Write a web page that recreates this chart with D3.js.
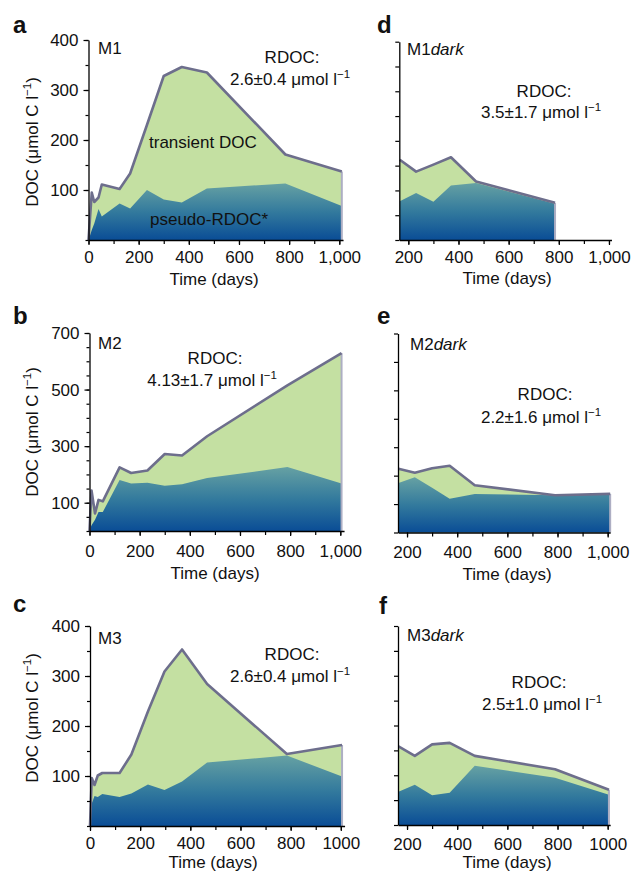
<!DOCTYPE html>
<html><head><meta charset="utf-8">
<script src="https://cdn.jsdelivr.net/npm/d3@7"></script>
<style>
body{margin:0;background:#fff}
svg{display:block}
text{font-family:"Liberation Sans",Arial,Helvetica,sans-serif;fill:#111}
</style>
</head><body>
<svg id="chart" width="632" height="873"></svg>
<script>
// ---------------- DATA ----------------
const m1Days   = [0, 13, 23, 40, 53, 124, 166, 233, 300, 372, 472, 785, 1010];
const m1Total  = [0, 95, 76, 85, 111, 102, 133, 230, 328, 346, 335, 171, 137];
const m1Pseudo = [0, 20, 33, 62, 47, 73, 63, 100, 81, 75, 103, 113, 68];

const m2Days   = [0, 8, 22, 36, 53, 120, 166, 231, 300, 369, 469, 789, 1005];
const m2Total  = [0, 143, 62, 110, 105, 225, 205, 214, 272, 267, 335, 515, 629];
const m2Pseudo = [0, 20, 40, 67, 67, 180, 168, 171, 160, 165, 187, 226, 168];

const m3Days   = [0, 7, 18, 31, 49, 118, 165, 231, 297, 367, 467, 785, 1005];
const m3Total  = [0, 96, 82, 101, 106, 106, 143, 229, 309, 353, 284, 144, 162];
const m3Pseudo = [0, 45, 60, 58, 64, 58, 65, 83, 72, 89, 127, 141, 99];

const m1dDays   = [166, 231, 300, 370, 470, 785];
const m1dTotal  = [162, 138, 152, 167, 118, 75];
const m1dPseudo = [78, 95, 77, 110, 115, 73];

const m2dDays   = [166, 231, 300, 370, 470, 790, 1010];
const m2dTotal  = [224, 210, 226, 235, 166, 131, 136];
const m2dPseudo = [174, 194, 157, 119, 135, 131, 136];

const m3dDays   = [166, 231, 300, 370, 470, 790, 1005];
const m3dTotal  = [158, 139, 162, 165, 139, 112, 71];
const m3dPseudo = [67, 81, 60, 65, 119, 95, 61];

const rdocValues = ["2.6±0.4", "4.13±1.7", "2.6±0.4", "3.5±1.7", "2.2±1.6", "2.5±1.0"];
const yLabels400 = [100, 200, 300, 400];
const yLabels700 = [100, 300, 500, 700];
const xLabelsFull = [0, 200, 400, 600, 800, 1000];
const xLabelsDark = [200, 400, 600, 800, 1000];

// ---------------- STYLE / LAYOUT ----------------
const GREEN = "#c4e0a2";
const LINE = "#6d6e8c";
const EDGE = "#adaec3";
const PXDAY = 0.2508;
const FS = 17;

const panels = [
  {key:"a", name:"M1", dark:false, days:m1Days, total:m1Total, pseudo:m1Pseudo, rdoc:rdocValues[0],
   left:88.5, top:40, bottom:240, yMax:400, yStep:50, yLab:yLabels400, xDom:[0,1015], xLab:xLabelsFull, fmt:",",
   letter:[13,33], mLab:[98,54], r1:[292,63], r2:[290,85], tickBase:263, titleBase:285, titleX:214, yTitleY:142},
  {key:"b", name:"M2", dark:false, days:m2Days, total:m2Total, pseudo:m2Pseudo, rdoc:rdocValues[1],
   left:89.5, top:333, bottom:531, yMax:700, yStep:50, yLab:yLabels700, xDom:[0,1015], xLab:xLabelsFull, fmt:",",
   letter:[13,324], mLab:[98,349], r1:[215,364], r2:[212,386], tickBase:557, titleBase:579, titleX:215, yTitleY:432},
  {key:"c", name:"M3", dark:false, days:m3Days, total:m3Total, pseudo:m3Pseudo, rdoc:rdocValues[2],
   left:90, top:626, bottom:826, yMax:400, yStep:50, yLab:yLabels400, xDom:[0,1015], xLab:xLabelsFull, fmt:"d",
   letter:[13,612], mLab:[98,644], r1:[292,660], r2:[290,682], tickBase:849, titleBase:868, titleX:213, yTitleY:718},
  {key:"d", name:"M1", dark:true, days:m1dDays, total:m1dTotal, pseudo:m1dPseudo, rdoc:rdocValues[3],
   left:399.3, top:41.7, bottom:240, yMax:400, yStep:50, yLab:[], xDom:[164,1010], xLab:xLabelsDark, fmt:",",
   letter:[377,33], mLab:[407,55], r1:[544,97], r2:[541,118], tickBase:263, titleBase:284, titleX:507},
  {key:"e", name:"M2", dark:true, days:m2dDays, total:m2dTotal, pseudo:m2dPseudo, rdoc:rdocValues[4],
   left:398, top:333.5, bottom:532.5, yMax:700, yStep:100, yLab:[], xDom:[164,1010], xLab:xLabelsDark, fmt:",",
   letter:[377,324], mLab:[410,350], r1:[545,400], r2:[541,423], tickBase:558, titleBase:580, titleX:507},
  {key:"f", name:"M3", dark:true, days:m3dDays, total:m3dTotal, pseudo:m3dPseudo, rdoc:rdocValues[5],
   left:398, top:626, bottom:825, yMax:400, yStep:50, yLab:[], xDom:[164,1010], xLab:xLabelsDark, fmt:"d",
   letter:[379,614], mLab:[407,641], r1:[539,688], r2:[542,710], tickBase:850, titleBase:868, titleX:507}
];

const svg = d3.select("#chart");
const defs = svg.append("defs");

function supText(sel, before, sup, after) {
  sel.append("tspan").text(before);
  sel.append("tspan").attr("font-size", 11.5).attr("dy", -7).text(sup);
  if (after) sel.append("tspan").attr("dy", 7).text(after);
}

panels.forEach(p => {
  const g = svg.append("g");
  const x = d3.scaleLinear().domain(p.xDom).range([p.left, p.left + (p.xDom[1] - p.xDom[0]) * PXDAY]);
  const y = d3.scaleLinear().domain([0, p.yMax]).range([p.bottom, p.top]);
  const pts = p.days.map((d, i) => ({d, t: p.total[i], s: p.pseudo[i]}));

  const grad = defs.append("linearGradient").attr("id", "grad-" + p.key)
    .attr("x1", 0).attr("y1", 0).attr("x2", 0).attr("y2", 1);
  grad.append("stop").attr("offset", "0%").attr("stop-color", "#66a1a3");
  grad.append("stop").attr("offset", "50%").attr("stop-color", "#337a9d");
  grad.append("stop").attr("offset", "100%").attr("stop-color", "#0a4d96");

  g.append("path").datum(pts)
    .attr("d", d3.area().x(d => x(d.d)).y0(y(0)).y1(d => y(d.t)))
    .attr("fill", GREEN);
  g.append("path").datum(pts)
    .attr("d", d3.area().x(d => x(d.d)).y0(y(0)).y1(d => y(d.s)))
    .attr("fill", "url(#grad-" + p.key + ")");

  const last = pts[pts.length - 1];
  g.append("line")
    .attr("x1", x(last.d)).attr("x2", x(last.d))
    .attr("y1", y(last.t)).attr("y2", y(0))
    .attr("stroke", EDGE).attr("stroke-width", 2);

  g.append("path").datum(pts)
    .attr("d", d3.line().x(d => x(d.d)).y(d => y(d.t)))
    .attr("fill", "none").attr("stroke", LINE).attr("stroke-width", 2.6)
    .attr("stroke-linejoin", "round");

  // y axis
  const yTicks = d3.range(0, p.yMax + 1, p.yStep);
  const yAx = g.append("g").attr("transform", `translate(${p.left},0)`)
    .call(d3.axisLeft(y).tickValues(yTicks).tickSize(p.yLab.length ? 3 : 4).tickSizeOuter(0).tickFormat(""));
  yAx.select(".domain").attr("stroke", "#000").attr("stroke-width", 1.3);
  yAx.selectAll(".tick line").attr("stroke", "#000").attr("stroke-width", 1.2);
  if (p.yLab.length) {
    const yL = g.append("g").attr("transform", `translate(${p.left},0)`)
      .call(d3.axisLeft(y).tickValues(p.yLab).tickSize(5).tickPadding(5).tickSizeOuter(0));
    yL.select(".domain").remove();
    yL.selectAll(".tick line").attr("stroke", "#000").attr("stroke-width", 1.2);
    yL.selectAll("text").attr("font-size", FS).attr("font-family", null).attr("fill", "#111");
  }

  // x axis
  const xTicks = d3.range(p.xLab[0], 1001, 100);
  const xAx = g.append("g").attr("transform", `translate(0,${p.bottom})`)
    .call(d3.axisBottom(x).tickValues(xTicks).tickSize(4).tickSizeOuter(0).tickFormat(""));
  xAx.select(".domain").attr("stroke", "#000").attr("stroke-width", 1.3);
  xAx.selectAll(".tick line").attr("stroke", "#000").attr("stroke-width", 1.2);
  const xL = g.append("g").attr("transform", `translate(0,${p.bottom})`)
    .call(d3.axisBottom(x).tickValues(p.xLab).tickSize(5).tickSizeOuter(0).tickFormat(d3.format(p.fmt)));
  xL.select(".domain").remove();
  xL.selectAll(".tick line").attr("stroke", "#000").attr("stroke-width", 1.2);
  xL.selectAll("text").attr("font-size", FS).attr("font-family", null).attr("fill", "#111")
    .attr("y", p.tickBase - p.bottom).attr("dy", 0);

  g.append("text").attr("x", p.titleX).attr("y", p.titleBase).attr("text-anchor", "middle")
    .attr("font-size", FS).text("Time (days)");

  if (p.yTitleY) {
    const yt = g.append("text").attr("text-anchor", "middle").attr("font-size", FS)
      .attr("transform", `translate(37.5,${p.yTitleY}) rotate(-90)`);
    supText(yt, "DOC (μmol C l", "−1", ")");
  }

  // panel letter
  g.append("text").attr("x", p.letter[0]).attr("y", p.letter[1])
    .attr("font-size", 24).attr("font-weight", "bold").attr("fill", "#000").text(p.key);

  // M label
  const m = g.append("text").attr("x", p.mLab[0]).attr("y", p.mLab[1]).attr("font-size", FS);
  m.append("tspan").text(p.name);
  if (p.dark) m.append("tspan").attr("font-style", "italic").text("dark");

  // RDOC annotation
  g.append("text").attr("x", p.r1[0]).attr("y", p.r1[1]).attr("text-anchor", "middle")
    .attr("font-size", FS).text("RDOC:");
  const r = g.append("text").attr("x", p.r2[0]).attr("y", p.r2[1]).attr("text-anchor", "middle")
    .attr("font-size", FS);
  supText(r, p.rdoc + " μmol l", "−1", null);

  if (p.key === "a") {
    g.append("text").attr("x", 149).attr("y", 148).attr("font-size", FS).text("transient DOC");
    g.append("text").attr("x", 150).attr("y", 225).attr("font-size", FS).text("pseudo-RDOC*");
  }
});
</script>
</body></html>
